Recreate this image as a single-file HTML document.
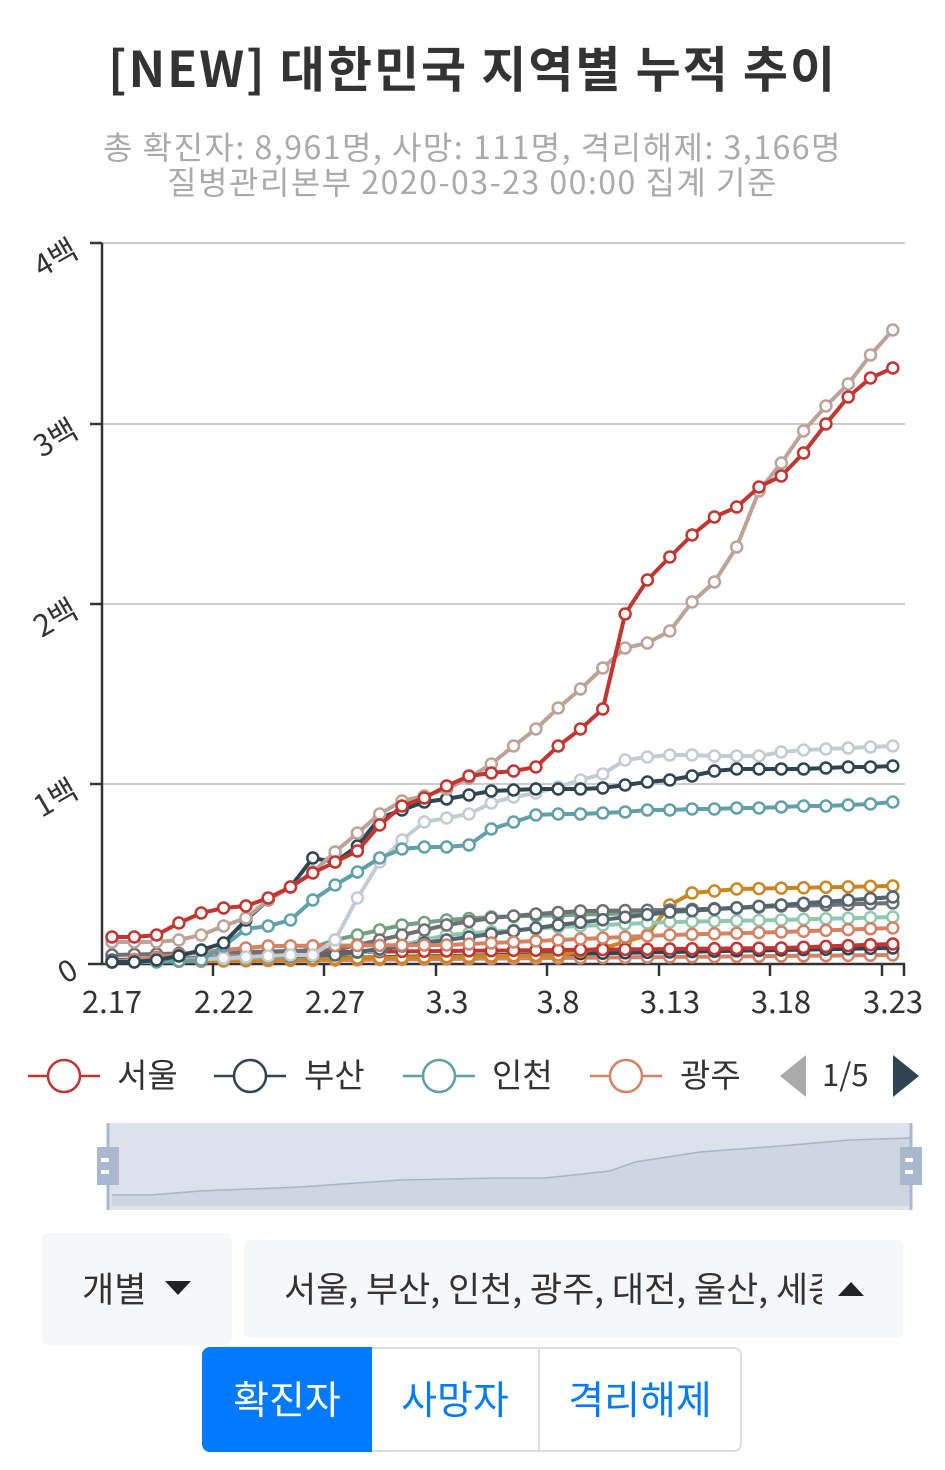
<!DOCTYPE html>
<html><head><meta charset="utf-8"><style>
body{margin:0;width:945px;height:1470px;background:#fff;font-family:"Noto Sans CJK KR","Liberation Sans",sans-serif;position:relative;overflow:hidden}
.a{position:absolute}
</style></head><body>
<div class="a" style="left:0;width:945px;top:34px;text-align:center;font-size:49px;line-height:66px;letter-spacing:2px;font-weight:bold;color:#333;white-space:nowrap">[NEW] 대한민국 지역별 누적 추이</div>
<div class="a" style="left:0;width:945px;top:129px;text-align:center;font-size:32px;line-height:35px;letter-spacing:1.5px;color:#aaa;white-space:nowrap">총 확진자: 8,961명, 사망: 111명, 격리해제: 3,166명<br>질병관리본부 2020-03-23 00:00 집계 기준</div>
<svg class="a" style="left:0;top:0" width="945" height="1470" id="s">
<g stroke="#ccc" stroke-width="2">
<line x1="102" y1="243" x2="905" y2="243"/><line x1="102" y1="424" x2="905" y2="424"/><line x1="102" y1="604" x2="905" y2="604"/><line x1="102" y1="784" x2="905" y2="784"/></g>
<g stroke="#333" stroke-width="2.5">
<line x1="102" y1="243" x2="102" y2="965"/><line x1="88" y1="964" x2="905" y2="964"/>
<line x1="90" y1="243" x2="102" y2="243"/><line x1="90" y1="424" x2="102" y2="424"/><line x1="90" y1="604" x2="102" y2="604"/><line x1="90" y1="784" x2="102" y2="784"/>
<line x1="213" y1="964" x2="213" y2="976"/><line x1="324" y1="964" x2="324" y2="976"/><line x1="436" y1="964" x2="436" y2="976"/><line x1="547" y1="964" x2="547" y2="976"/><line x1="659" y1="964" x2="659" y2="976"/><line x1="770" y1="964" x2="770" y2="976"/><line x1="882" y1="964" x2="882" y2="976"/><line x1="904" y1="964" x2="904" y2="976"/>
</g>
<g font-size="30" fill="#333" text-anchor="end" font-family="Noto Sans CJK KR,sans-serif">
<text transform="translate(80,976) rotate(-30)">0</text>
<text transform="translate(80,796) rotate(-30)">1백</text>
<text transform="translate(80,616) rotate(-30)">2백</text>
<text transform="translate(80,436) rotate(-30)">3백</text>
<text transform="translate(80,256) rotate(-30)">4백</text>
</g>
<g font-size="31" fill="#333" text-anchor="middle" font-family="Noto Sans CJK KR,sans-serif">
<text x="112" y="1013">2.17</text><text x="224" y="1013">2.22</text><text x="335" y="1013">2.27</text><text x="447" y="1013">3.3</text><text x="558" y="1013">3.8</text><text x="670" y="1013">3.13</text><text x="781" y="1013">3.18</text><text x="893" y="1013">3.23</text>
</g>
<g id="series"></g>
<g stroke-width="2.5" fill="#fff">
<line x1="28" y1="1076" x2="100" y2="1076" stroke="#c23531"/><circle cx="64" cy="1076" r="16" stroke="#c23531"/>
<line x1="214" y1="1076" x2="286" y2="1076" stroke="#2f4554"/><circle cx="250" cy="1076" r="16" stroke="#2f4554"/>
<line x1="403" y1="1076" x2="475" y2="1076" stroke="#61a0a8"/><circle cx="439" cy="1076" r="16" stroke="#61a0a8"/>
<line x1="590" y1="1076" x2="662" y2="1076" stroke="#d48265"/><circle cx="626" cy="1076" r="16" stroke="#d48265"/>
</g>
<g font-size="33" fill="#333" font-family="Noto Sans CJK KR,sans-serif">
<text x="117" y="1087">서울</text><text x="304" y="1087">부산</text><text x="492" y="1087">인천</text><text x="680" y="1087">광주</text><text x="822" y="1086" font-size="31">1/5</text></g>
<polygon points="806,1055 806,1097 780,1076" fill="#aaa"/>
<polygon points="893,1055 893,1097 919,1076" fill="#2f4554"/>
<rect x="108" y="1123" width="804" height="87" fill="#dfe3ea"/>
<rect x="110" y="1126" width="800" height="80" fill="#dbe2ec"/>
<polygon points="112,1195 150,1195 200,1191 300,1187 400,1180 500,1178 545,1178 610,1171 635,1162 700,1152 780,1146 850,1140 910,1138 910,1206 112,1206" fill="#ced6e1" stroke="none"/>
<polyline points="112,1195 150,1195 200,1191 300,1187 400,1180 500,1178 545,1178 610,1171 635,1162 700,1152 780,1146 850,1140 910,1138" fill="none" stroke="#aab4c4" stroke-width="1.5"/>
<line x1="108" y1="1123" x2="108" y2="1210" stroke="#a9b8cf" stroke-width="3"/>
<line x1="911" y1="1123" x2="911" y2="1210" stroke="#a9b8cf" stroke-width="3"/>
<rect x="97" y="1147" width="22" height="38" fill="#a9b8cf"/><rect x="900" y="1147" width="22" height="38" fill="#a9b8cf"/>
<rect x="101" y="1158" width="8" height="4" fill="#fff"/><rect x="101" y="1170" width="8" height="4" fill="#fff"/>
<rect x="905" y="1158" width="8" height="4" fill="#fff"/><rect x="905" y="1170" width="8" height="4" fill="#fff"/>
</svg>
<div class="a" style="left:42px;top:1233px;width:190px;height:112px;background:#f6f7f9;border-radius:6px"></div>
<div class="a" style="left:82px;top:1266px;font-size:35px;line-height:44px;color:#333">개별</div>
<div class="a" style="left:165px;top:1281px;width:0;height:0;border-left:13px solid transparent;border-right:13px solid transparent;border-top:14px solid #222"></div>
<div class="a" style="left:244px;top:1240px;width:659px;height:98px;background:#f6f7f9;border-radius:6px"></div>
<div class="a" style="left:284px;top:1266px;width:538px;overflow:hidden;white-space:nowrap;font-size:35px;line-height:44px;color:#333">서울, 부산, 인천, 광주, 대전, 울산, 세종</div>
<div class="a" style="left:838px;top:1282px;width:0;height:0;border-left:13px solid transparent;border-right:13px solid transparent;border-bottom:14px solid #222"></div>
<div class="a" style="left:202px;top:1347px;width:540px;height:105px;border:2px solid #ddd;border-radius:8px;box-sizing:border-box"></div>
<div class="a" style="left:202px;top:1347px;width:170px;height:105px;background:#007bff;border-radius:8px 0 0 8px;color:#fff;font-size:39px;text-align:center;line-height:103px">확진자</div>
<div class="a" style="left:372px;top:1347px;width:166px;height:103px;border-right:2px solid #ddd;color:#007bff;font-size:39px;text-align:center;line-height:103px">사망자</div>
<div class="a" style="left:540px;top:1347px;width:200px;height:103px;color:#007bff;font-size:39px;text-align:center;line-height:103px">격리해제</div>
<script>
function interp(k){var r=[];var keys=Object.keys(k).map(Number).sort(function(a,b){return a-b});for(var i=0;i<36;i++){var j=0;while(j<keys.length-1&&keys[j+1]<i)j++;var a=keys[j],b=keys[Math.min(j+1,keys.length-1)];var v=(a==b||i<=a)?k[a]:k[a]+(k[b]-k[a])*(i-a)/(b-a);if(i>=keys[keys.length-1])v=k[keys[keys.length-1]];r.push(v)}return r}
var S=[
["#d48265",interp({0:962,10:960,20:958,35:955})],
["#2f4554",interp({0:962,10:958,20:954,35:948})],
["#ca8622",interp({0:962,20:955,22:948,23:942,24:935,25:905,26:893,28:889,35:886})],
["#c23531",interp({0:962,10:952,20:950,30:948,35:944})],
["#91c7ae",interp({0:962,10:955,12:950,15:935,20:927,25:922,30:920,35:917})],
["#749f83",interp({0:962,8:955,10:940,12:930,13:925,15:920,17:917,22:914,25:912,30:905,35:897})],
["#6e7074",interp({0:955,10:950,12:940,14:930,15:925,17:918,19:914,21:911,25:910,28:908,30:906,32:905,35:903})],
["#546570",interp({0:960,10:955,15:940,20:925,25:912,30:905,35:897})],
["#d48265",interp({0:962,5:950,7:946,15:945,20:940,25:935,30:932,35:928})],
["#c4ccd3",[962,962,961,960,959,958,957,956,955,955,940,898,862,840,822,818,814,803,797,793,787,780,774,760,757,755,755,756,756,756,752,750,749,748,747,746]],
["#61a0a8",[962,962,962,961,960,946,929,926,920,900,885,872,858,849,847,847,845,829,822,815,814,814,813,812,810,810,809,809,808,808,807,806,806,805,804,802]],
["#2f4554",[962,962,960,956,950,943,920,900,887,858,862,846,818,810,802,799,795,791,790,789,789,789,788,785,782,780,776,771,769,769,769,769,768,767,767,766]],
["#bda29a",[942,942,942,940,935,926,918,900,887,872,852,833,814,801,796,789,778,764,746,729,708,689,668,648,643,631,602,582,547,491,463,431,406,384,355,330]],
["#c23531",[937,937,935,923,913,908,906,898,887,873,862,851,825,806,798,786,776,773,771,767,746,729,709,614,580,557,535,517,507,487,476,453,424,397,378,368]]
];
var g=document.getElementById('series'),h='';
S.forEach(function(s){var p=s[1].map(function(y,i){return (112+i*22.31).toFixed(1)+','+y}).join(' ');
h+='<polyline points="'+p+'" fill="none" stroke="'+s[0]+'" stroke-width="4"/>';
s[1].forEach(function(y,i){h+='<circle cx="'+(112+i*22.31).toFixed(1)+'" cy="'+y+'" r="5.5" fill="#fff" stroke="'+s[0]+'" stroke-width="2.5"/>'})});
g.innerHTML=h;
</script>
</body></html>
